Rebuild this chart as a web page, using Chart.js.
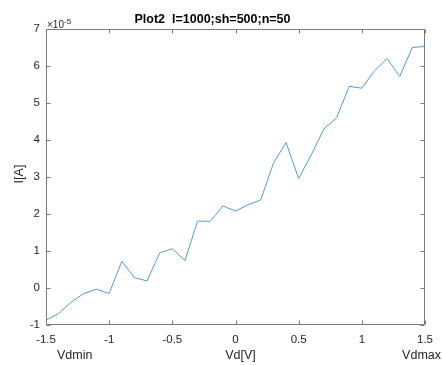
<!DOCTYPE html>
<html>
<head>
<meta charset="utf-8">
<script src="https://cdn.jsdelivr.net/npm/chart.js@4/dist/chart.umd.min.js"></script>
<style>
  html, body { margin: 0; padding: 0; background: #fff; }
  #wrap { width: 442px; height: 365px; }
</style>
</head>
<body>
<div id="wrap"><canvas id="plot"></canvas></div>
<script>
// values, current in units of 1e-5 A
const vd = [-1.5, -1.4, -1.3, -1.2, -1.1, -1.0, -0.9, -0.8, -0.7, -0.6, -0.5,
            -0.4, -0.3, -0.2, -0.1, 0.0, 0.1, 0.2, 0.3, 0.4, 0.5,
            0.6, 0.7, 0.8, 0.9, 1.0, 1.1, 1.2, 1.3, 1.4, 1.5];
const current = [-0.87, -0.69, -0.38, -0.15, -0.03, -0.15, 0.72, 0.28, 0.19, 0.95, 1.06,
                 0.74, 1.81, 1.80, 2.22, 2.08, 2.25, 2.38, 3.37, 3.93, 2.96,
                 3.60, 4.30, 4.60, 5.45, 5.40, 5.87, 6.20, 5.72, 6.50, 6.53];
const xTicks = [-1.5, -1, -0.5, 0, 0.5, 1, 1.5];
const yTicks = [-1, 0, 1, 2, 3, 4, 5, 6, 7];
const yExponent = "-5";
const titleText = "Plot2  l=1000;sh=500;n=50";
const xLabels = ["Vdmin", "Vd[V]", "Vdmax"];
const yLabel = "I[A]";

const FONT = "'Liberation Sans', Arial, sans-serif";
const textColor = "#262626";
const boxColor = "#7a7a7a";

// MATLAB style box with inward ticks on all sides, plus the extra labels
const matlabAxes = {
  id: 'matlabAxes',
  afterDraw(chart) {
    const ctx = chart.ctx;
    const a = chart.chartArea;
    const xs = chart.scales.x, ys = chart.scales.y;
    const L = Math.round(a.left) + 0.5, R = Math.round(a.right) - 0.5;
    const T = Math.round(a.top) + 0.5, B = Math.round(a.bottom) - 0.5;
    const tl = 4;
    ctx.save();
    ctx.strokeStyle = boxColor;
    ctx.lineWidth = 1;
    ctx.beginPath();
    ctx.rect(L, T, R - L, B - T);
    xTicks.forEach(function(v) {
      const px = Math.round(xs.getPixelForValue(v)) + 0.5;
      ctx.moveTo(px, B); ctx.lineTo(px, B - tl);
      ctx.moveTo(px, T); ctx.lineTo(px, T + tl);
    });
    yTicks.forEach(function(v) {
      const py = Math.round(ys.getPixelForValue(v)) + 0.5;
      ctx.moveTo(L, py); ctx.lineTo(L + tl, py);
      ctx.moveTo(R, py); ctx.lineTo(R - tl, py);
    });
    ctx.stroke();

    ctx.fillStyle = textColor;
    // exponent
    ctx.textBaseline = 'alphabetic';
    ctx.textAlign = 'left';
    ctx.font = '10px ' + FONT;
    const base = '\u00d710';
    ctx.fillText(base, a.left + 1, a.top - 1.5);
    const w = ctx.measureText(base).width;
    ctx.font = '8px ' + FONT;
    ctx.fillText(yExponent, a.left + 1 + w, a.top - 5.5);

    // x label row
    ctx.font = '12.5px ' + FONT;
    ctx.textBaseline = 'middle';
    const ly = a.bottom + 31;
    ctx.textAlign = 'left';
    ctx.fillText(xLabels[0], a.left + 11, ly);
    ctx.textAlign = 'center';
    ctx.fillText(xLabels[1], (a.left + a.right) / 2 + 5, ly);
    ctx.textAlign = 'right';
    ctx.fillText(xLabels[2], chart.width - 1, ly);

    // y label
    ctx.translate(20, (a.top + a.bottom) / 2 - 3);
    ctx.rotate(-Math.PI / 2);
    ctx.textAlign = 'center';
    ctx.fillText(yLabel, 0, 0);
    ctx.restore();
  }
};

function plainTick(v) { return String(v); }

new Chart(document.getElementById('plot'), {
  type: 'line',
  data: {
    datasets: [{
      data: vd.map(function(x, i) { return { x: x, y: current[i] }; }),
      borderColor: 'rgb(80,155,215)',
      borderWidth: 1,
      pointRadius: 0,
      tension: 0,
      fill: false
    }]
  },
  options: {
    responsive: true,
    maintainAspectRatio: false,
    animation: false,
    layout: { padding: { left: 0, right: 17, top: 0, bottom: 0 } },
    plugins: {
      legend: { display: false },
      tooltip: { enabled: false },
      title: {
        display: true,
        text: titleText,
        color: '#000',
        font: { family: FONT, size: 12.5, weight: 'bold' },
        padding: { top: 12, bottom: 2 }
      }
    },
    scales: {
      x: {
        type: 'linear',
        min: -1.5,
        max: 1.5,
        afterBuildTicks: function(s) { s.ticks = xTicks.map(function(v) { return { value: v }; }); },
        afterFit: function(s) { s.height = 40; },
        grid: { display: false, drawTicks: false },
        border: { display: false },
        ticks: {
          color: textColor,
          font: { family: FONT, size: 11.5 },
          padding: 8,
          maxRotation: 0,
          callback: plainTick
        }
      },
      y: {
        min: -1,
        max: 7,
        afterBuildTicks: function(s) { s.ticks = yTicks.map(function(v) { return { value: v }; }); },
        afterFit: function(s) { s.width = 46; },
        grid: { display: false, drawTicks: false },
        border: { display: false },
        ticks: {
          color: textColor,
          font: { family: FONT, size: 11.5 },
          padding: 6,
          callback: plainTick
        }
      }
    }
  },
  plugins: [matlabAxes]
});
</script>
</body>
</html>
